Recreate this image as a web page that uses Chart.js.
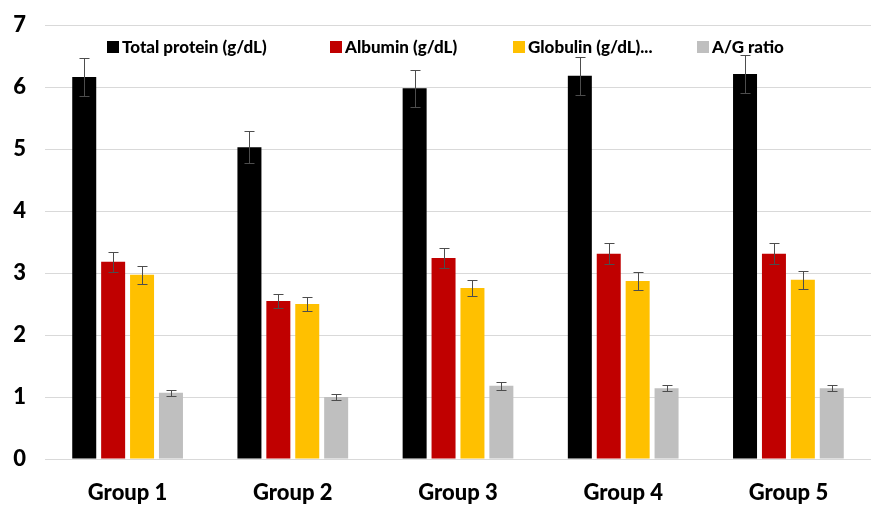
<!DOCTYPE html>
<html>
<head>
<meta charset="utf-8">
<script src="https://cdn.jsdelivr.net/npm/chart.js@4/dist/chart.umd.min.js"></script>
<style>
  html, body { margin: 0; padding: 0; background: #fff; }
  #wrap { width: 871px; height: 508px; }
</style>
</head>
<body>
<div id="wrap"><canvas id="chart" width="871" height="508"></canvas></div>
<script>
const groups = ['Group 1', 'Group 2', 'Group 3', 'Group 4', 'Group 5'];
const seriesNames = ['Total protein (g/dL)', 'Albumin (g/dL)', 'Globulin (g/dL)...', 'A/G ratio'];
const seriesColors = ['#000000', '#C00000', '#FFC000', '#BFBFBF'];

const totalProtein = [6.16, 5.03, 5.98, 6.18, 6.21];
const albumin      = [3.18, 2.55, 3.24, 3.31, 3.31];
const globulin     = [2.97, 2.50, 2.76, 2.87, 2.89];
const agRatio      = [1.07, 1.00, 1.18, 1.14, 1.14];

const totalProteinErr = [0.30, 0.26, 0.30, 0.31, 0.30];
const albuminErr      = [0.16, 0.11, 0.16, 0.17, 0.17];
const globulinErr     = [0.15, 0.11, 0.13, 0.14, 0.15];
const agRatioErr      = [0.05, 0.05, 0.06, 0.05, 0.05];

const yTicks = [0, 1, 2, 3, 4, 5, 6, 7];

const values = [totalProtein, albumin, globulin, agRatio];
const errors = [totalProteinErr, albuminErr, globulinErr, agRatioErr];

const FONT = 'Lato, "Open Sans", sans-serif';

// error bars drawn on top of each bar
const errorBars = {
    id: 'errorBars',
    afterDatasetsDraw(chart) {
        const ctx = chart.ctx;
        const y = chart.scales.y;
        ctx.save();
        ctx.strokeStyle = '#4d4d4d';
        ctx.lineWidth = 1;
        chart.data.datasets.forEach(function(ds, i) {
            const meta = chart.getDatasetMeta(i);
            meta.data.forEach(function(bar, j) {
                const v = ds.data[j];
                const e = ds.errors[j];
                const top = Math.round(y.getPixelForValue(v + e)) + 0.5;
                const bot = Math.round(y.getPixelForValue(v - e)) + 0.5;
                const x = Math.round(bar.x) + 0.5;
                ctx.beginPath();
                ctx.moveTo(x, top); ctx.lineTo(x, bot);
                ctx.moveTo(x - 5, top); ctx.lineTo(x + 5, top);
                ctx.moveTo(x - 5, bot); ctx.lineTo(x + 5, bot);
                ctx.stroke();
            });
        });
        ctx.restore();
    }
};

// legend drawn inside the plot, like the original
const legendStarts = [107, 330, 513, 697];
const insideLegend = {
    id: 'insideLegend',
    afterDraw(chart) {
        const ctx = chart.ctx;
        ctx.save();
        ctx.font = '900 17px ' + FONT;
        ctx.textBaseline = 'middle';
        chart.data.datasets.forEach(function(ds, i) {
            const x = legendStarts[i];
            const yy = 47;
            ctx.fillStyle = ds.backgroundColor;
            ctx.fillRect(x, yy - 6, 12, 12);
            ctx.fillStyle = '#000';
            ctx.fillText(ds.label, x + 15, yy + 1);
        });
        ctx.restore();
    }
};

const datasets = seriesNames.map(function(name, i) {
    return {
        label: name,
        data: values[i],
        errors: errors[i],
        backgroundColor: seriesColors[i],
        borderWidth: 0
    };
});

new Chart(document.getElementById('chart').getContext('2d'), {
    type: 'bar',
    data: { labels: groups, datasets: datasets },
    options: {
        responsive: false,
        animation: false,
        layout: { padding: { top: 25, right: 0, left: 0, bottom: 0 } },
        datasets: {
            bar: { categoryPercentage: 0.7, barPercentage: 0.83 }
        },
        plugins: {
            legend: { display: false },
            tooltip: { enabled: false }
        },
        scales: {
            x: {
                grid: { display: false, drawTicks: false },
                border: { display: true, color: '#d9d9d9', width: 1 },
                ticks: {
                    color: '#000',
                    padding: 21,
                    font: { family: FONT, size: 22, weight: '900' }
                },
                afterFit: function(s) { s.height = 49; }
            },
            y: {
                min: 0,
                max: 7,
                afterBuildTicks: function(s) { s.ticks = yTicks.map(function(v) { return { value: v }; }); },
                grid: { color: '#d9d9d9', drawTicks: false },
                border: { display: false },
                ticks: {
                    color: '#000',
                    padding: 19,
                    font: { family: FONT, size: 22, weight: '900' }
                },
                afterFit: function(s) {
                    s.width = 45;
                    s.paddingTop = 0;
                    s.paddingBottom = 0;
                }
            }
        }
    },
    plugins: [errorBars, insideLegend]
});
</script>
</body>
</html>
